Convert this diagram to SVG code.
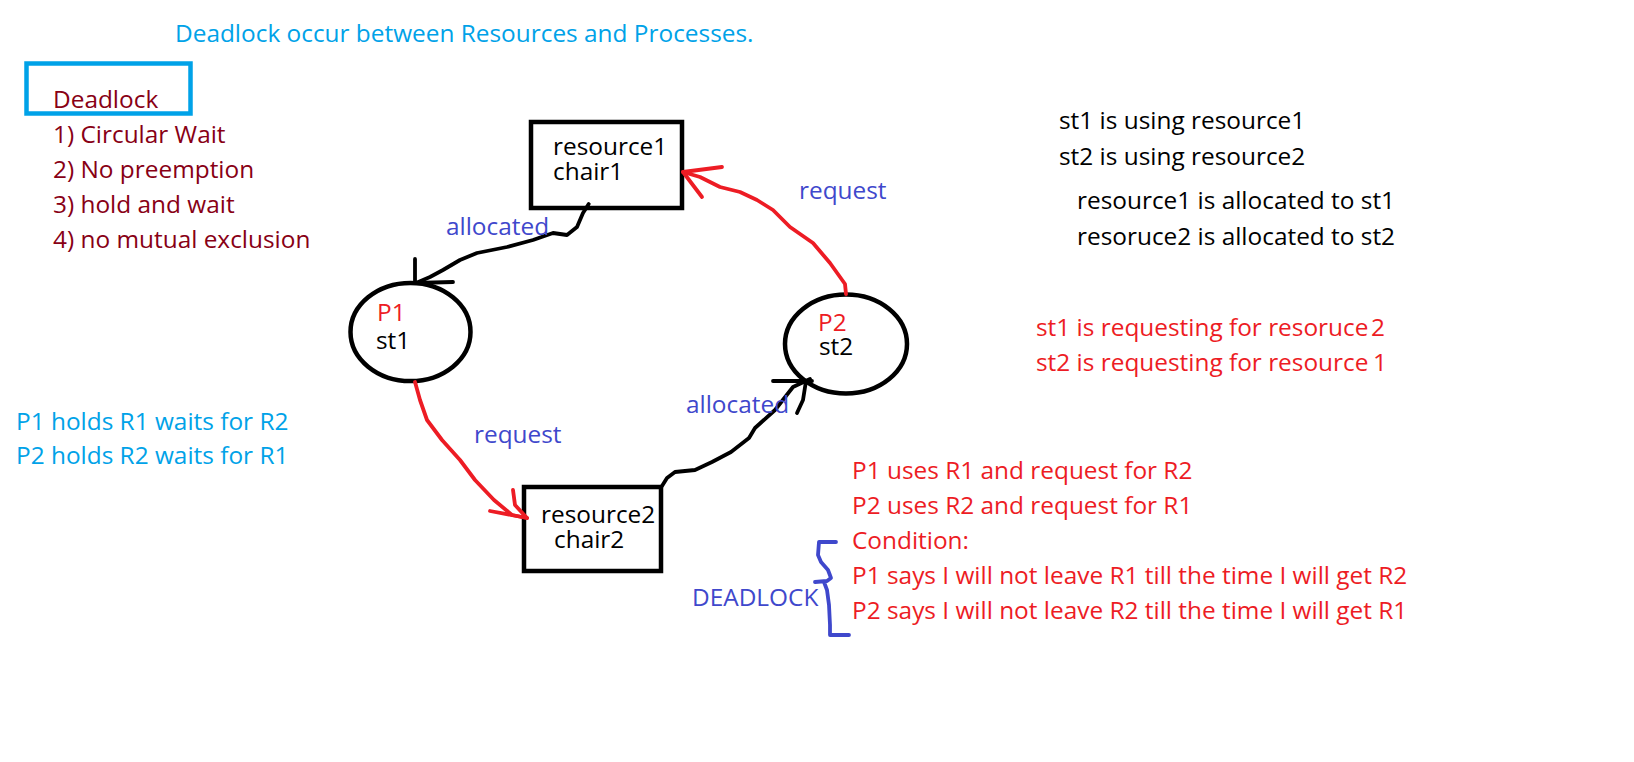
<svg xmlns="http://www.w3.org/2000/svg" width="1634" height="762" viewBox="0 0 1634 762">
<style>
text{font-family:"Open Sans","Liberation Sans",sans-serif;font-size:24.4px}
.blk{fill:#000}
.red{fill:#ED1C24}
.ind{fill:#3F48CC}
.cyan{fill:#00A2E8}
.dred{fill:#880015}
.node{fill:none;stroke:#000;stroke-width:4.5}
.ln{fill:none;stroke-width:3.8;stroke-linecap:round;stroke-linejoin:round}
.k{stroke:#000}
.r{stroke:#ED1C24}
.b{stroke:#3F48CC}
</style>
<rect width="1634" height="762" fill="#fff"/>
<g id="title"><text x="175" y="42" class="cyan">Deadlock occur between Resources and Processes.</text></g>
<g id="conditions">
<rect x="26.5" y="63.5" width="164" height="50" fill="none" stroke="#00A2E8" stroke-width="4.5"/>
<text x="53" y="108" class="dred">Deadlock</text>
<text x="53" y="143" class="dred">1) Circular Wait</text>
<text x="53" y="178" class="dred">2) No preemption</text>
<text x="53" y="213" class="dred">3) hold and wait</text>
<text x="53" y="248" class="dred">4) no mutual exclusion</text>
</g>
<g id="holds">
<text x="16" y="430" class="cyan">P1 holds R1 waits for R2</text>
<text x="16" y="464" class="cyan">P2 holds R2 waits for R1</text>
</g>
<g id="resource1">
<rect x="531" y="122" width="151" height="86" class="node"/>
<text x="553" y="155" class="blk">resource1</text>
<text x="553" y="180" class="blk">chair1</text>
</g>
<g id="resource2">
<rect x="524" y="487" width="137" height="84" class="node"/>
<text x="541" y="523" class="blk">resource2</text>
<text x="554" y="548" class="blk">chair2</text>
</g>
<g id="P1">
<ellipse cx="410.5" cy="332" rx="60" ry="49" class="node"/>
<text x="377" y="321" class="red">P1</text>
<text x="376" y="349" class="blk">st1</text>
</g>
<g id="P2">
<ellipse cx="846" cy="344" rx="61" ry="49.5" class="node"/>
<text x="818" y="331" class="red">P2</text>
<text x="819" y="355" class="blk">st2</text>
</g>
<g id="connectors">
<path class="ln k" d="M588.7,204 L583,213 L577,227 L567,235 L553,233 L533,240 L507,247 L477,253 L460,260 L443,270 L430,277 L416,283"/>
<path class="ln k" d="M415,259 L415,283 L453,282"/>
<path class="ln r" d="M846,294 L845,284 L840,277 L830,263 L813,243 L790,227 L773,210 L757,200 L740,192 L720,187 L700,177 L683,172"/>
<path class="ln r" d="M722,167 L683,172 L702,197"/>
<path class="ln r" d="M415,382 L420,400 L427,420 L442,440 L460,460 L475,480 L494,500 L512,515 L527,518"/>
<path class="ln r" d="M490,511 L527,518 M513,490 L515,505 L527,518"/>
<path class="ln k" d="M662,486 L667,478 L675,472 L695,470 L712,462 L731,452 L749,438 L755,428 L775,410 L793,387 L810,379"/>
<path class="ln k" d="M773,381 L812,381 M806,381 L803,400 L797,413"/>
</g>
<g id="labels">
<text x="446" y="235" class="ind">allocated</text>
<text x="799" y="199" class="ind">request</text>
<text x="474" y="443" class="ind">request</text>
<text x="686" y="413" class="ind">allocated</text>
</g>
<g id="usage">
<text x="1059" y="129" class="blk">st1 is using resource1</text>
<text x="1059" y="165" class="blk">st2 is using resource2</text>
<text x="1077" y="209" class="blk">resource1 is allocated to st1</text>
<text x="1077" y="245" class="blk">resoruce2 is allocated to st2</text>
</g>
<g id="requesting">
<text x="1036" y="336" class="red">st1 is requesting for resoruce<tspan x="1371">2</tspan></text>
<text x="1036" y="371" class="red">st2 is requesting for resource<tspan x="1373">1</tspan></text>
</g>
<g id="deadlock">
<path class="ln b" d="M836,542 L819,542 L818,555 L821,562 L828,570 L831,578 L827,581 L815,582 M824,582 L827,590 L829,605 L830,625 L830,635 L849,635"/>
<text x="692" y="606" class="ind">DEADLOCK</text>
<text x="852" y="479" class="red">P1 uses R1 and request for R2</text>
<text x="852" y="514" class="red">P2 uses R2 and request for R1</text>
<text x="852" y="549" class="red">Condition:</text>
<text x="852" y="584" class="red">P1 says I will not leave R1 till the time I will get R2</text>
<text x="852" y="619" class="red">P2 says I will not leave R2 till the time I will get R1</text>
</g>
</svg>
